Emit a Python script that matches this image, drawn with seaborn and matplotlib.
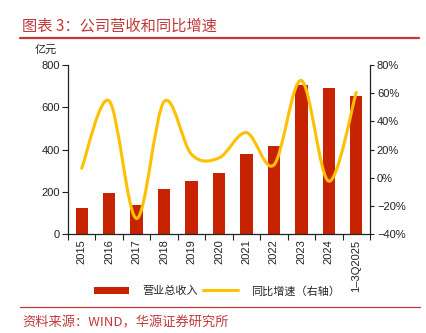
import numpy as np
import matplotlib
matplotlib.use("Agg")
import matplotlib.pyplot as plt
from matplotlib.path import Path
from matplotlib.patches import PathPatch, Patch
from matplotlib.lines import Line2D
from matplotlib.ticker import FuncFormatter, FixedLocator
import seaborn as sns

# Data
categories = ["2015", "2016", "2017", "2018", "2019", "2020",
              "2021", "2022", "2023", "2024", "1–3Q2025"]
revenue = [124, 195, 137, 211, 249, 287, 380, 416, 705, 690, 654]      # 亿元
growth = [6.7, 54.5, -29.0, 54.0, 16.5, 14.0, 32.0, 9.0, 69.0, -2.5, 60.5]  # %

title_text = "图表 3：公司营收和同比增速"
source_text = "资料来源：WIND，华源证券研究所"
unit_text = "亿元"
bar_label = "营业总收入"
line_label = "同比增速（右轴）"

BAR_COLOR = "#C82300"
LINE_COLOR = "#FFC000"
RED_TEXT = "#C0393B"

sns.set_style("ticks")
plt.rcParams["font.family"] = ["Liberation Sans", "Noto Sans CJK SC", "DejaVu Sans"]
plt.rcParams["axes.unicode_minus"] = True

fig = plt.figure(figsize=(4.26, 3.33), dpi=100)
ax = fig.add_axes([0.1596, 0.2973, 0.7089, 0.5075])

sns.barplot(x=categories, y=revenue, ax=ax, color=BAR_COLOR, width=0.45,
            saturation=1, edgecolor="none")
ax.set_xlim(-0.5, len(categories) - 0.5)
ax.set_ylim(0, 800)
ax.set_yticks([0, 200, 400, 600, 800])
ax.set_xlabel("")
ax.set_ylabel("")

# category labels at bar centres, tick marks at category boundaries
ax.set_xticks(range(len(categories)))
ax.set_xticklabels(categories, rotation=90, fontsize=8, color="#222222")
ax.xaxis.set_minor_locator(FixedLocator(np.arange(-0.5, len(categories), 1.0)))
ax.tick_params(axis="x", which="major", length=0, pad=4)
ax.tick_params(axis="x", which="minor", length=4, width=0.8, direction="out", color="#222222")
ax.tick_params(axis="y", length=4, width=0.8, direction="out", labelsize=8,
               colors="#222222", pad=2)

for s in ["top", "right"]:
    ax.spines[s].set_visible(False)
for s in ["left", "bottom"]:
    ax.spines[s].set_color("#222222")
    ax.spines[s].set_linewidth(0.9)

# right axis for growth rate
ax2 = ax.twinx()
ax2.set_ylim(-40, 80)
ax2.set_yticks(range(-40, 81, 20))
ax2.yaxis.set_major_formatter(FuncFormatter(lambda v, p: f"{int(v)}%".replace("-", "\u2212")))
ax2.tick_params(axis="y", length=3, width=0.8, direction="out", labelsize=8,
                colors="#222222", pad=2)
for s in ["top", "left", "bottom"]:
    ax2.spines[s].set_visible(False)
ax2.spines["right"].set_color("#222222")
ax2.spines["right"].set_linewidth(0.9)
ax2.grid(False)
ax.grid(False)

# smoothed growth line (cubic Bezier segments through each point)
xs = np.arange(len(growth), dtype=float)
ys = np.asarray(growth, dtype=float)
n = len(xs)
verts = [(xs[0], ys[0])]
codes = [Path.MOVETO]
for i in range(n - 1):
    p0 = np.array([xs[max(i - 1, 0)], ys[max(i - 1, 0)]])
    p1 = np.array([xs[i], ys[i]])
    p2 = np.array([xs[i + 1], ys[i + 1]])
    p3 = np.array([xs[min(i + 2, n - 1)], ys[min(i + 2, n - 1)]])
    c1 = p1 + (p2 - p0) / 6.0
    c2 = p2 - (p3 - p1) / 6.0
    verts += [tuple(c1), tuple(c2), tuple(p2)]
    codes += [Path.CURVE4] * 3
ax2.add_patch(PathPatch(Path(verts, codes), facecolor="none", edgecolor=LINE_COLOR,
                        lw=2.2, capstyle="round", joinstyle="round"))

# unit label
fig.text(35 / 426, 1 - 50 / 333, unit_text, fontsize=8, color="#222222",
         ha="left", va="center")

# title and rules
fig.text(22 / 426, 1 - 26 / 333, title_text, fontsize=11, color=RED_TEXT,
         ha="left", va="center", family=["Noto Sans CJK SC", "DejaVu Sans"])
fig.add_artist(Line2D([20 / 426, 419 / 426], [1 - 38 / 333, 1 - 38 / 333],
                      color=RED_TEXT, lw=1.6, transform=fig.transFigure))
fig.add_artist(Line2D([20 / 426, 420 / 426], [1 - 307 / 333, 1 - 307 / 333],
                      color=RED_TEXT, lw=0.9, transform=fig.transFigure))
fig.text(22 / 426, 1 - 323 / 333, source_text, fontsize=9.5, color=RED_TEXT,
         ha="left", va="center", family=["Noto Sans CJK SC", "DejaVu Sans"])

# legend
handles = [Patch(facecolor=BAR_COLOR, edgecolor="none"),
           Line2D([0], [0], color=LINE_COLOR, lw=2.2)]
fig.legend(handles, [bar_label, line_label], loc="center",
           bbox_to_anchor=(217 / 426, 1 - 291 / 333), ncol=2, frameon=False,
           fontsize=8, handlelength=3.2, handleheight=0.7, columnspacing=0.4,
           handletextpad=1.2, borderaxespad=0)

fig.savefig("out.png", dpi=100)
